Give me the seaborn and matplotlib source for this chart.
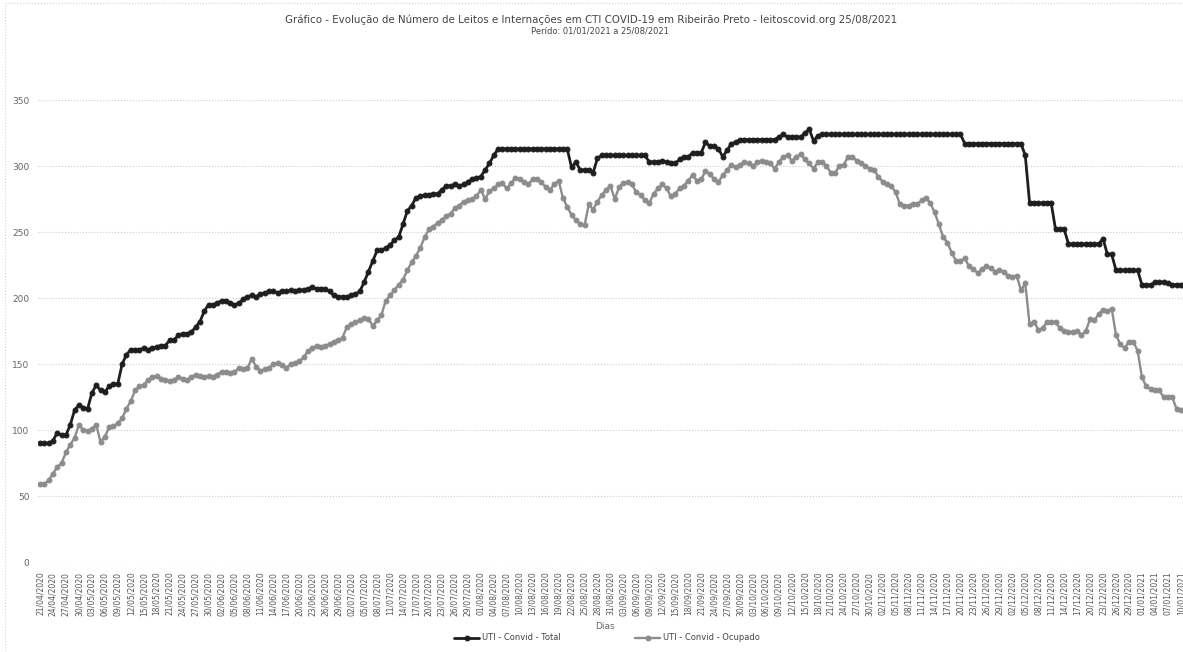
import numpy as np
import pandas as pd
import matplotlib
matplotlib.use('Agg')
import matplotlib.pyplot as plt
import seaborn as sns
from matplotlib.patches import Rectangle

# days on the x axis (one point per day)
dias = pd.date_range('2020-04-21', '2021-01-10', freq='D')

# UTI - Convid - Total
total = [
    90, 90, 90, 92, 98, 96, 96, 104, 115, 119,
    117, 116, 128, 134, 130, 129, 133, 135, 135, 150,
    157, 161, 161, 161, 162, 161, 162, 163, 164, 164,
    168, 168, 172, 173, 173, 174, 178, 182, 190, 195,
    195, 196, 198, 198, 196, 195, 196, 199, 201, 202,
    201, 203, 204, 205, 205, 204, 205, 205, 206, 205,
    206, 206, 207, 208, 207, 207, 207, 205, 202, 201,
    201, 201, 202, 203, 205, 212, 220, 228, 236, 236,
    238, 240, 244, 246, 256, 266, 270, 276, 277, 278,
    278, 279, 279, 282, 285, 285, 286, 285, 286, 288,
    290, 291, 292, 297, 302, 308, 313, 313, 313, 313,
    313, 313, 313, 313, 313, 313, 313, 313, 313, 313,
    313, 313, 313, 299, 303, 297, 297, 297, 295, 306,
    308, 308, 308, 308, 308, 308, 308, 308, 308, 308,
    308, 303, 303, 303, 304, 303, 302, 302, 305, 307,
    307, 310, 310, 310, 318, 315, 315, 313, 307, 312,
    317, 318, 320, 320, 320, 320, 320, 320, 320, 320,
    320, 322, 324, 322, 322, 322, 322, 325, 328, 319,
    323, 324, 324, 324, 324, 324, 324, 324, 324, 324,
    324, 324, 324, 324, 324, 324, 324, 324, 324, 324,
    324, 324, 324, 324, 324, 324, 324, 324, 324, 324,
    324, 324, 324, 324, 317, 317, 317, 317, 317, 317,
    317, 317, 317, 317, 317, 317, 317, 317, 308, 272,
    272, 272, 272, 272, 272, 252, 252, 252, 241, 241,
    241, 241, 241, 241, 241, 241, 245, 233, 233, 221,
    221, 221, 221, 221, 221, 210, 210, 210, 212, 212,
    212, 211, 210, 210, 210,
]

# UTI - Convid - Ocupado
ocupado = [
    59, 59, 62, 67, 72, 75, 83, 89, 94, 104,
    100, 99, 101, 104, 91, 95, 102, 103, 105, 109,
    116, 122, 130, 133, 134, 138, 140, 141, 139, 138,
    137, 138, 140, 139, 138, 140, 142, 141, 140, 141,
    140, 142, 144, 144, 143, 144, 147, 146, 147, 154,
    148, 145, 146, 147, 150, 151, 149, 147, 150, 151,
    152, 155, 160, 162, 164, 163, 164, 165, 167, 168,
    170, 178, 180, 182, 183, 185, 184, 179, 183, 187,
    198, 202, 206, 210, 214, 221, 227, 232, 238, 246,
    252, 254, 257, 259, 262, 264, 268, 270, 273, 274,
    275, 277, 282, 275, 281, 283, 286, 287, 283, 287,
    291, 290, 288, 286, 290, 290, 288, 284, 282, 286,
    289, 276, 269, 263, 259, 256, 255, 271, 267, 273,
    278, 282, 285, 275, 284, 287, 288, 286, 280, 278,
    274, 272, 279, 283, 286, 283, 277, 279, 283, 285,
    289, 293, 289, 290, 296, 294, 290, 288, 293, 297,
    301, 299, 301, 303, 302, 300, 303, 304, 303, 302,
    298, 303, 307, 308, 304, 307, 309, 305, 302, 298,
    303, 303, 300, 295, 295, 300, 301, 307, 307, 304,
    302, 300, 298, 297, 292, 288, 286, 285, 280, 271,
    270, 270, 271, 271, 274, 276, 272, 265, 256, 246,
    242, 234, 228, 228, 230, 224, 222, 219, 222, 224,
    223, 220, 221, 220, 217, 216, 217, 206, 211, 180,
    182, 176, 177, 182, 182, 182, 177, 175, 174, 174,
    175, 172, 175, 184, 183, 188, 191, 190, 192, 172,
    165, 162, 167, 167, 160, 140, 133, 131, 130, 130,
    125, 125, 125, 116, 115,
]

titulo = ('Gráfico - Evolução de Número de Leitos e Internações em CTI COVID-19 '
          'em Ribeirão Preto - leitoscovid.org 25/08/2021')
subtitulo = 'Perído: 01/01/2021 a 25/08/2021'

sns.set_style('white')
plt.rcParams['font.family'] = ['DejaVu Sans']

df = pd.DataFrame({'dia': np.arange(len(dias)),
                   'UTI - Convid - Total': total,
                   'UTI - Convid - Ocupado': ocupado})

fig = plt.figure(figsize=(11.83, 6.52), dpi=100)
ax = fig.add_axes([0.032, 0.138, 0.968, 0.7086])

sns.lineplot(data=df, x='dia', y='UTI - Convid - Total', ax=ax, color='#1e1e1e',
             linewidth=2.0, marker='o', markersize=3.5, markeredgecolor='#1e1e1e',
             label='UTI - Convid - Total')
sns.lineplot(data=df, x='dia', y='UTI - Convid - Ocupado', ax=ax, color='#8c8c8c',
             linewidth=1.7, marker='o', markersize=3.5, markeredgecolor='#8c8c8c',
             label='UTI - Convid - Ocupado')

ax.set_xlim(-0.5, len(dias) - 0.5)
ax.set_ylim(0, 350)
ax.set_yticks(range(0, 351, 50))
ax.set_xticks(df['dia'][::3])
ax.set_xticklabels([d.strftime('%d/%m/%Y') for d in dias[::3]], rotation=90,
                   fontsize=5.5, color='#555555')
ax.tick_params(axis='y', labelsize=6.5, labelcolor='#666666', length=0, pad=6)
ax.tick_params(axis='x', length=0, pad=7)
ax.grid(axis='y', linestyle=':', color='#cccccc', linewidth=0.8)
ax.grid(axis='x', visible=False)
for s in ax.spines.values():
    s.set_visible(False)

ax.set_ylabel('')
ax.set_xlabel('Dias', fontsize=6.5, color='#666666')
ax.xaxis.set_label_coords(0.495, -0.13)

ax.legend(loc='center', bbox_to_anchor=(0.513, 0.0215), bbox_transform=fig.transFigure,
          ncol=2, frameon=False, fontsize=6, columnspacing=9, handlelength=3,
          handletextpad=0.3, labelcolor='#444444')

fig.text(0.5, 1 - 20 / 652, titulo, ha='center', va='center', fontsize=7.4, color='#444444')
fig.text(0.507, 1 - 31 / 652, subtitulo, ha='center', va='center', fontsize=6,
         color='#444444')

fig.patches.append(Rectangle((0.0042, -0.01), 1.0, 1.0054, transform=fig.transFigure,
                             fill=False, edgecolor='#d0d0d0', linewidth=0.8,
                             linestyle=':'))

fig.savefig('out.png', dpi=100)
